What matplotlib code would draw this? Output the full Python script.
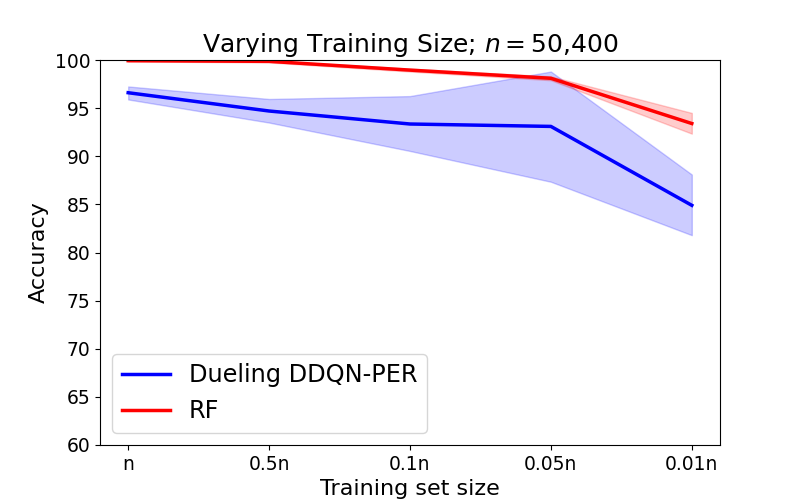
import matplotlib
matplotlib.use("Agg")
import matplotlib.pyplot as plt
import numpy as np

# training set sizes
sizes = ["n", "0.5n", "0.1n", "0.05n", "0.01n"]

# Dueling DDQN-PER accuracy (mean, lower, upper)
ddqn_mean = [96.6, 94.7, 93.35, 93.1, 84.9]
ddqn_low = [95.9, 93.5, 90.55, 87.35, 81.8]
ddqn_high = [97.25, 95.95, 96.25, 98.8, 88.1]

# RF accuracy (mean, lower, upper)
rf_mean = [99.93, 99.86, 98.95, 98.1, 93.4]
rf_low = [99.85, 99.75, 98.8, 97.9, 92.35]
rf_high = [100.0, 99.95, 99.1, 98.3, 94.5]

x = np.arange(len(sizes))

fig, ax = plt.subplots(figsize=(8, 5), dpi=100)
ax.plot(x, ddqn_mean, color="blue", lw=2.5, label="Dueling DDQN-PER")
ax.fill_between(x, ddqn_low, ddqn_high, color="blue", alpha=0.2)
ax.plot(x, rf_mean, color="red", lw=2.5, label="RF")
ax.fill_between(x, rf_low, rf_high, color="red", alpha=0.2)

ax.set_xticks(x)
ax.set_xticklabels(sizes)
ax.set_ylim(60, 100)
ax.tick_params(labelsize=13.5)
ax.set_xlabel("Training set size", fontsize=16)
ax.set_ylabel("Accuracy", fontsize=16)
ax.set_title("Varying Training Size; $n = 50{,}400$", fontsize=18)
ax.legend(loc="lower left", fontsize=17.3)

fig.savefig("out.png")
